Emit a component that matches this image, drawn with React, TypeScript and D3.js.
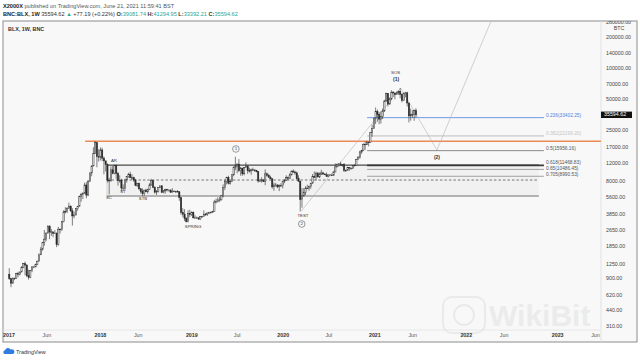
import React from "react";
import * as d3 from "d3";

// ---------- DATA ----------
const firstWeek = "2017-01-02";
const firstOpen = 998;

// weekly highs / lows / closes, 2017-01-02 .. 2021-06-14
const highs = [
  // 2017
  1150, 915, 930, 925, 1035, 1060, 1060, 1200, 1290, 1330, 1260, 1110, 1100, 1210, 1210, 1270, 1360, 1600, 1850, 2070, 2700, 2560, 2980, 2990, 2770, 2600,
  2700, 2550, 2900, 2800, 3300, 4200, 4500, 4500, 4980, 4700, 4400, 4100, 4400, 4600, 5850, 6200, 6300, 7800, 7880, 8300, 9700, 11500, 17200, 19700, 19100, 16500,
  // 2018
  17200, 17000, 14000, 12000, 12000, 8700, 11200, 11300, 11600, 11700, 9900, 9200, 8500, 7500, 8400, 9000, 9700, 9950, 9400, 8900, 8500, 7700, 7800, 6900, 6850, 6600,
  6800, 6800, 7700, 8500, 8200, 7200, 6600, 6800, 7300, 7400, 6600, 6800, 6800, 6700, 6700, 6900, 6550, 6500, 6600, 6450, 5600, 4400, 4300, 3600, 4200, 4250, 4100,
  // 2019
  4100, 3750, 3650, 3580, 3700, 3700, 4200, 3950, 4000, 4050, 4100, 4150, 5300, 5450, 5600, 5650, 5900, 7500, 8350, 8900, 9100, 8300, 9400, 11200, 13900, 12000,
  13200, 11100, 10800, 11000, 12300, 11500, 10900, 10650, 10900, 10500, 10300, 10050, 8500, 8800, 8400, 10500, 9800, 9500, 9100, 8600, 7800, 7750, 7500, 7500, 7700, 8000,
  // 2020
  8450, 9200, 8950, 9600, 10150, 10500, 10200, 10000, 9200, 8150, 6900, 6900, 7200, 7450, 7300, 7750, 9450, 10000, 9950, 9900, 9800, 10400, 9950, 9650, 9800, 9400,
  9450, 9400, 9950, 12000, 12000, 12100, 12450, 11800, 12100, 10450, 11150, 11000, 10900, 11500, 11800, 13300, 14100, 15900, 16300, 18800, 19500, 19900, 19400, 24300, 28500, 33300,
  // 2021
  41900, 40000, 37800, 38500, 40900, 49700, 58400, 58000, 52600, 61800, 60700, 58500, 60200, 61300, 64800, 57600, 58500, 59600, 59600, 46700, 40900, 39400, 40000, 41294.95,
];
const lows = [
  // 2017
  885, 750, 820, 880, 910, 940, 980, 1050, 1150, 980, 940, 890, 920, 1050, 1150, 1180, 1230, 1345, 1550, 1700, 1900, 2100, 2500, 2200, 2370, 2300,
  2470, 1840, 1900, 2500, 2650, 3200, 3900, 3950, 4350, 4050, 2980, 3500, 3750, 4150, 4600, 5100, 5400, 6100, 5500, 5800, 8000, 9000, 11300, 14900, 11000, 12500,
  // 2018
  12800, 12600, 9400, 10000, 7800, 6000, 8000, 9400, 9400, 8500, 7300, 7800, 6400, 6500, 6600, 7800, 8700, 8600, 8300, 7950, 7200, 7050, 6600, 6100, 5800, 5800,
  6300, 6100, 6600, 7300, 6900, 6100, 5900, 6250, 6900, 6200, 6150, 6100, 6400, 6400, 6200, 6300, 6350, 6200, 6300, 5200, 3800, 3600, 3300, 3200, 3200, 3600, 3700,
  // 2019
  3500, 3500, 3500, 3400, 3400, 3550, 3650, 3700, 3700, 3850, 3950, 3950, 4100, 4900, 5000, 5050, 5250, 5600, 6600, 7500, 7500, 7450, 7900, 9000, 10300, 9600,
  9900, 9100, 9100, 9200, 10900, 9500, 9800, 9300, 10300, 9900, 9800, 7800, 7900, 7800, 7900, 7350, 8900, 8700, 8400, 6800, 6500, 7100, 6900, 6450, 7100, 6850,
  // 2020
  7700, 8100, 8250, 8500, 9150, 9700, 9300, 8400, 7950, 4100, 4450, 5700, 5900, 6750, 6500, 6800, 7650, 8700, 8200, 8800, 8650, 9250, 9250, 9250, 8850, 8900,
  9100, 9050, 9100, 9900, 11000, 11100, 11350, 11100, 9900, 9900, 10200, 10150, 10400, 10550, 11200, 11400, 12900, 13300, 14850, 15800, 16200, 18200, 17600, 19000, 21800, 26000,
  // 2021
  29000, 30400, 28800, 29300, 32300, 37900, 47200, 43000, 44900, 49300, 53200, 50300, 55800, 55500, 51500, 47100, 48800, 52900, 42900, 30000, 31200, 33300, 31100, 33392.21,
];
const closes = [
  // 2017
  910, 820, 920, 915, 1015, 1000, 1055, 1170, 1270, 1230, 970, 940, 1090, 1180, 1180, 1250, 1345, 1550, 1760, 2050, 2200, 2520, 2950, 2590, 2590, 2500,
  2520, 1950, 2750, 2730, 3260, 4050, 4100, 4350, 4600, 4150, 3700, 3780, 4350, 4600, 5700, 6000, 6150, 7400, 5900, 8050, 9700, 11300, 15000, 19100, 14000, 13800,
  // 2018
  16200, 13500, 12700, 11700, 8200, 8100, 10400, 9600, 11400, 9600, 8200, 8200, 6900, 6900, 8300, 8900, 9400, 8700, 8700, 8250, 7350, 7700, 6800, 6400, 6100, 6600,
  6350, 6700, 7400, 8200, 7000, 6300, 6400, 7000, 7250, 6250, 6500, 6700, 6600, 6600, 6300, 6450, 6400, 6400, 6350, 5600, 4000, 3850, 3500, 3250, 3900, 3800, 4000,
  // 2019
  3550, 3550, 3550, 3450, 3650, 3650, 3850, 3850, 3950, 4000, 4000, 4100, 5050, 5100, 5300, 5300, 5800, 7000, 8000, 8700, 7700, 8000, 9300, 11000, 11300, 11800,
  10200, 10800, 9500, 10900, 11300, 10200, 10150, 10400, 10350, 10300, 10000, 8100, 8100, 8300, 8000, 9500, 9200, 8800, 8500, 7100, 7400, 7400, 7100, 7300, 7300, 8050,
  // 2020
  8150, 8700, 8600, 9300, 10100, 9900, 9700, 8550, 8050, 5350, 5800, 6250, 6900, 6850, 7150, 7700, 8900, 8750, 9650, 8850, 9450, 9700, 9450, 9300, 9000, 9250,
  9250, 9200, 9900, 11100, 11700, 11850, 11700, 11700, 10250, 10300, 10950, 10800, 10650, 11400, 11500, 13100, 13800, 15500, 16050, 18400, 18200, 19150, 19300, 23800, 26300, 33000,
  // 2021
  38200, 35800, 32300, 34300, 38900, 48600, 57500, 45200, 50900, 59000, 58000, 55900, 58200, 60000, 56200, 49000, 57800, 58200, 46400, 34700, 35700, 35800, 39081.74, 35594.62,
];

const lastPrice = 35594.62;

const priceTicks = [280000, 200000, 140000, 100000, 70000, 50000, 25000, 17000, 12000, 8000, 5600, 3850, 2650, 1850, 1250, 900, 620, 440, 310];

const timeTickDates = ["2017-01-01", "2017-06-01", "2018-01-01", "2018-06-01", "2019-01-01", "2019-07-01", "2020-01-01", "2020-07-01", "2021-01-01", "2021-06-01", "2022-01-01", "2022-06-01", "2023-01-01", "2023-06-01"];
const timeTickLabels = ["2017", "Jun", "2018", "Jun", "2019", "Jul", "2020", "Jul", "2021", "Jun", "2022", "Jun", "2023", "Jun"];

const fibRatios = ["0.236", "0.382", "0.5", "0.618", "0.65", "0.705"];
const fibValues = [33402.25, 22199.2, 15956.16, 11468.83, 10486.45, 8990.53];
const fibStart = "2020-12-01";
const fibEnd = "2022-11-07";

const resistanceValue = 19700;
const resistanceStart = "2017-11-01";

const rangeHigh = 11550;
const rangeMid = 8270;
const rangeLow = 5780;
const rangeStart = "2018-01-27";
const rangeEnd = "2022-10-18";

const waveDates = ["2020-03-12", "2021-04-14", "2021-09-06", "2022-04-10"];
const wavePrices = [4100, 64800, 16200, 290000];

const noteTexts = ["AR", "SC", "ST", "STB", "SPRING", "TEST", "SOS", "(1)", "(2)"];
const noteDates = ["2018-02-24", "2018-02-04", "2018-04-01", "2018-06-20", "2019-01-06", "2020-03-20", "2021-03-25", "2021-03-27", "2021-09-06"];
const notePrices = [12650, 5530, 6320, 5420, 2890, 3700, 90500, 79000, 13530];

const circleTexts = ["1", "2"];
const circleDates = ["2019-06-26", "2020-03-15"];
const circlePrices = [16570, 3090];

// ---------- LAYOUT ----------
const W = 640, H = 360;
const frame = { x0: 3, y0: 21, x1: 637, y1: 342 };
const plotRight = 601;
const plotBottom = 330;
const FONT = "'Liberation Sans', Arial, sans-serif";

const parse = d3.utcParse("%Y-%m-%d");

export default function App() {
  const x = d3.scaleUtc().domain([parse("2016-12-08")!, parse("2023-06-23")!]).range([frame.x0, plotRight]);
  const y = d3.scaleLog().domain([310, 200000]).range([326.7, 37.7]);

  const start = parse(firstWeek)!;
  const candles = closes.map((c, i) => ({
    date: d3.utcDay.offset(start, 7 * i),
    open: i === 0 ? firstOpen : closes[i - 1],
    high: highs[i],
    low: lows[i],
    close: c,
  }));

  const bw = 1.25;
  const dark = "#2a2a2a";
  const waveLine = d3.line<[Date, number]>().x((d) => x(d[0])).y((d) => y(d[1]));
  const wavePts: [Date, number][] = waveDates.map((d, i) => [parse(d)!, wavePrices[i]]);

  const fibColors = ["#6f9be3", "#d6d6d6", "#8a8a8a", "#3a3a3a", "#a0a0a0", "#a0a0a0"];
  const fibWidths = [1, 1.6, 1, 1.6, 1, 1];
  const fibText = ["#4f82da", "#c4c4c4", "#555", "#555", "#555", "#555"];

  return (
    <svg width={W} height={H} style={{ position: "fixed", left: 0, top: 0, background: "#fff" }} fontFamily={FONT}>
      <defs>
        <clipPath id="plot">
          <rect x={frame.x0} y={frame.y0} width={plotRight - frame.x0} height={plotBottom - frame.y0} />
        </clipPath>
        <clipPath id="frameClip">
          <rect x={frame.x0} y={frame.y0} width={frame.x1 - frame.x0} height={frame.y1 - frame.y0} />
        </clipPath>
      </defs>

      {/* header */}
      <text x={3} y={7.8} fontSize={5.6} fill="#555">
        <tspan fontWeight="bold" fill="#222">X2000X</tspan>
        <tspan> published on TradingView.com, June 21, 2021 11:59:41 BST</tspan>
      </text>
      <text x={3} y={15.8} fontSize={5.6} fill="#333">
        <tspan fontWeight="bold" fill="#222">BNC:BLX, 1W</tspan>
        <tspan> 35594.62 </tspan>
        <tspan fill="#26a69a">▲</tspan>
        <tspan> +77.19 (+0.22%) </tspan>
        <tspan fontWeight="bold">O:</tspan><tspan fill="#26a69a">39081.74 </tspan>
        <tspan fontWeight="bold">H:</tspan><tspan fill="#26a69a">41294.95 </tspan>
        <tspan fontWeight="bold">L:</tspan><tspan fill="#26a69a">33392.21 </tspan>
        <tspan fontWeight="bold">C:</tspan><tspan fill="#26a69a">35594.62</tspan>
      </text>

      {/* frame */}
      <rect x={frame.x0} y={frame.y0} width={frame.x1 - frame.x0} height={frame.y1 - frame.y0} fill="#f8f8f8" stroke="#8c8c8c" strokeWidth={1} />
      <line x1={plotRight} x2={plotRight} y1={frame.y0} y2={frame.y1} stroke="#dcdcdc" strokeWidth={0.8} />
      <line x1={frame.x0} x2={plotRight} y1={plotBottom} y2={plotBottom} stroke="#e2e2e2" strokeWidth={0.8} />

      {/* watermark */}
      <g opacity={0.55}>
        <rect x={443} y={297} width={42} height={36} rx={9} fill="none" stroke="#e0e0e0" strokeWidth={2} />
        <circle cx={464} cy={315} r={10} fill="none" stroke="#e0e0e0" strokeWidth={2} />
        <text x={489} y={326} fontSize={30} fontWeight="bold" fill="#e2e2e2">WikiBit</text>
      </g>

      <text x={8} y={30.5} fontSize={5.4} fontWeight="bold" fill="#333">BLX, 1W, BNC</text>

      <g clipPath="url(#plot)">
        {/* range box */}
        <rect x={x(parse(rangeStart)!)} y={y(rangeHigh)} width={x(parse(rangeEnd)!) - x(parse(rangeStart)!)} height={y(rangeLow) - y(rangeHigh)} fill="#ececec" opacity={0.6} />
        <line x1={x(parse(rangeStart)!)} x2={x(parse(rangeStart)!)} y1={y(rangeHigh)} y2={y(rangeLow)} stroke="#bdbdbd" strokeWidth={0.6} />
        <line x1={x(parse(rangeStart)!)} x2={x(parse(rangeEnd)!)} y1={y(rangeHigh)} y2={y(rangeHigh)} stroke="#4a4a4a" strokeWidth={1.1} />
        <line x1={x(parse(rangeStart)!)} x2={x(parse(rangeEnd)!)} y1={y(rangeMid)} y2={y(rangeMid)} stroke="#555" strokeWidth={0.8} strokeDasharray="2.5,2" />
        <line x1={x(parse(rangeStart)!)} x2={x(parse(rangeEnd)!)} y1={y(rangeLow)} y2={y(rangeLow)} stroke="#9d9d9d" strokeWidth={1.6} />

        {/* fib levels */}
        {fibValues.map((v, i) => (
          <g key={fibRatios[i]}>
            <line x1={x(parse(fibStart)!)} x2={x(parse(fibEnd)!)} y1={y(v)} y2={y(v)} stroke={fibColors[i]} strokeWidth={fibWidths[i]} />
            <text x={x(parse(fibEnd)!) + 2} y={y(v) + (i === 4 ? 0.6 : i === 3 ? -1.2 : -0.6)} fontSize={4.8} fill={fibText[i]}>
              {fibRatios[i]}({d3.format(".2f")(v)})
            </text>
          </g>
        ))}

        {/* resistance */}
        <line x1={x(parse(resistanceStart)!)} x2={plotRight} y1={y(resistanceValue)} y2={y(resistanceValue)} stroke="#ec8a55" strokeWidth={1.6} />

        {/* wave path */}
        <path d={waveLine(wavePts) || ""} fill="none" stroke="#b4b4b4" strokeWidth={0.6} />

        {/* candles */}
        {candles.map((c, i) => {
          const cx = x(c.date);
          const up = c.close >= c.open;
          const top = y(Math.max(c.open, c.close));
          const bot = y(Math.min(c.open, c.close));
          return (
            <g key={i}>
              <line x1={cx} x2={cx} y1={y(c.high)} y2={y(c.low)} stroke={dark} strokeWidth={0.6} />
              <rect x={cx - bw / 2} y={top} width={bw} height={Math.max(0.6, bot - top)} fill={up ? "#f4f4f4" : dark} stroke={dark} strokeWidth={0.5} />
            </g>
          );
        })}

        {/* notes */}
        {noteTexts.map((t, i) => (
          <text key={t} x={x(parse(noteDates[i])!)} y={y(notePrices[i])} fontSize={t.startsWith("(") ? 5 : 4.3} textAnchor="middle" dominantBaseline="middle" fill="#333" fontWeight={t.startsWith("(") ? "bold" : "normal"}>
            {t}
          </text>
        ))}
        {circleTexts.map((t, i) => (
          <g key={t}>
            <circle cx={x(parse(circleDates[i])!)} cy={y(circlePrices[i])} r={3.3} fill="none" stroke="#555" strokeWidth={0.6} />
            <text x={x(parse(circleDates[i])!)} y={y(circlePrices[i]) + 0.2} fontSize={4.4} textAnchor="middle" dominantBaseline="middle" fill="#333">{t}</text>
          </g>
        ))}
      </g>

      {/* price axis */}
      <g clipPath="url(#frameClip)">
        {priceTicks.map((v) => (
          <text key={v} x={606} y={y(v)} fontSize={5.3} fill="#444" dominantBaseline="middle">{d3.format(".2f")(v)}</text>
        ))}
        <text x={619} y={28.3} fontSize={5.3} fill="#444" textAnchor="middle" dominantBaseline="middle">BTC</text>
        <rect x={plotRight} y={y(lastPrice) - 3.2} width={31} height={6.4} fill="#111" />
        <text x={604} y={y(lastPrice) + 0.2} fontSize={5.3} fill="#fff" dominantBaseline="middle">{d3.format(".2f")(lastPrice)}</text>
      </g>

      {/* time axis */}
      {timeTickDates.map((d, i) => {
        const isYear = /^\d{4}$/.test(timeTickLabels[i]);
        return (
          <text key={d} x={Math.max(x(parse(d)!), 9)} y={336} fontSize={5.3} textAnchor="middle" dominantBaseline="middle" fill={isYear ? "#333" : "#555"} fontWeight={isYear ? "bold" : "normal"}>
            {timeTickLabels[i]}
          </text>
        );
      })}

      {/* footer */}
      <g transform="translate(3,348)">
        <path d="M1.5,6 a2,2 0 0 1 0.5,-3.8 a3,3 0 0 1 5.6,-0.6 a2.2,2.2 0 0 1 2.4,4.4 z" fill="#2e7ce0" />
      </g>
      <text x={16} y={354} fontSize={5.4} fill="#333">TradingView</text>
    </svg>
  );
}
